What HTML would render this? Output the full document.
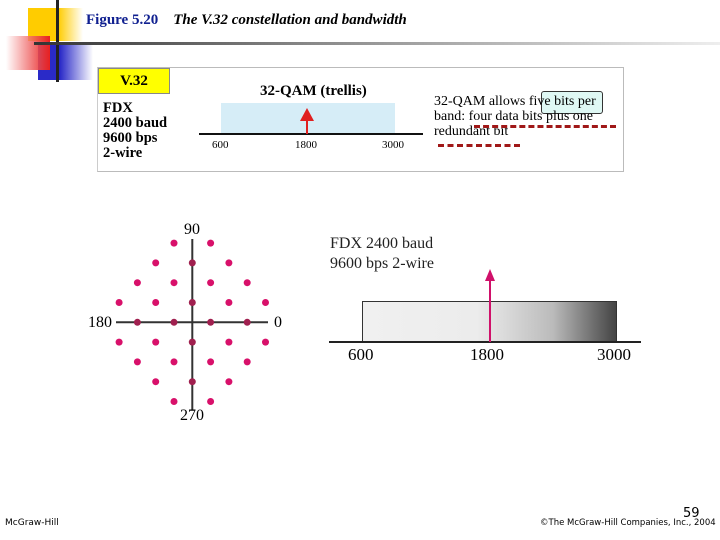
<!DOCTYPE html>
<html><head><meta charset="utf-8"><style>
body{margin:0;width:720px;height:540px;background:#fff;position:relative;overflow:hidden;font-family:"Liberation Serif",serif}
div,span{position:absolute}
</style></head><body>
<div style="left:28px;top:8px;width:55px;height:33px;background:linear-gradient(90deg,#fc0 55%,rgba(255,220,120,0))"></div>
<div style="left:38px;top:43px;width:55px;height:37px;background:linear-gradient(90deg,#2a2ac8 40%,rgba(80,80,220,0))"></div>
<div style="left:6px;top:36px;width:44px;height:34px;background:linear-gradient(90deg,rgba(255,255,255,0.6),#e82020);"></div>
<div style="left:56px;top:0;width:3px;height:82px;background:#222"></div>
<div style="left:34px;top:42px;width:686px;height:3px;background:linear-gradient(90deg,#333,#888 40%,#eee)"></div>
<div style="left:86px;top:12px;font-size:15px;white-space:nowrap"><b style="position:static;color:#102090">Figure 5.20</b>&nbsp;&nbsp;&nbsp;&nbsp;<i style="font-weight:bold">The V.32 constellation and bandwidth</i></div>

<div style="left:97px;top:67px;width:525px;height:103px;border:1px solid #bbb;border-left:1px solid #ccc">
  <div style="left:0;top:0;width:70px;height:24px;background:#ff0;border:1px solid #888;font-weight:bold;font-size:15px;text-align:center;line-height:24px">V.32</div>
  <div style="left:5px;top:33px;font-weight:bold;font-size:14.5px;line-height:15px">FDX<br>2400 baud<br>9600 bps<br>2-wire</div>
  <div style="left:162px;top:15px;font-weight:bold;font-size:15px">32-QAM (trellis)</div>
  <div style="left:123px;top:35px;width:174px;height:30px;background:#d6edf7"></div>
  <div style="left:101px;top:65px;width:224px;height:2px;background:#111"></div>
  <div style="left:208px;top:52px;width:2px;height:14px;background:#e02020"></div>
  <div style="left:202px;top:40px;width:0;height:0;border-left:7px solid transparent;border-right:7px solid transparent;border-bottom:13px solid #e02020"></div>
  <div style="left:114px;top:71px;font-size:11px">600</div>
  <div style="left:197px;top:71px;font-size:11px">1800</div>
  <div style="left:284px;top:71px;font-size:11px">3000</div>
  <div style="left:443px;top:23px;width:60px;height:21px;background:#dff8f4;border:1px solid #333;border-radius:3px"></div>
  <div style="left:336px;top:26px;font-size:14px;line-height:15px;white-space:nowrap">32-QAM allows five bits per<br>band: four data bits plus one<br>redundant bit</div>
  <div style="left:376px;top:57px;width:142px;border-top:3px dashed #a01818"></div>
  <div style="left:340px;top:76px;width:82px;border-top:3px dashed #a01818"></div>
</div>

<svg style="position:absolute;left:0;top:0" width="720" height="540">
  <g id="const" font-family="Liberation Serif, serif" font-size="16"></g>
</svg>

<div style="left:330px;top:234px;font-size:16px;line-height:20px;color:#222">FDX 2400 baud<br>9600 bps 2-wire</div>
<div style="left:362px;top:301px;width:253px;height:40px;border:1px solid #333;border-bottom:none;background:linear-gradient(90deg,#f0f0f0,#ececec 45%,#bbb 75%,#444)"></div>
<div style="left:329px;top:341px;width:312px;height:2px;background:#222"></div>
<div style="left:489px;top:278px;width:2px;height:64px;background:#d0106a"></div>
<div style="left:485px;top:269px;width:0;height:0;border-left:5px solid transparent;border-right:5px solid transparent;border-bottom:12px solid #d0106a"></div>
<div style="left:348px;top:345px;font-size:17px">600</div>
<div style="left:470px;top:345px;font-size:17px">1800</div>
<div style="left:597px;top:345px;font-size:17px">3000</div>

<div style="left:5px;top:518px;font-family:'DejaVu Sans',sans-serif;font-size:9px">McGraw-Hill</div>
<div style="left:683px;top:506px;font-family:'DejaVu Sans',sans-serif;font-size:13px">59</div>
<div style="left:540px;top:518px;font-family:'DejaVu Sans',sans-serif;font-size:8.5px;white-space:nowrap">©The McGraw-Hill Companies, Inc., 2004</div>

<script>
const pointsX=[-1,1,-2,0,2,-3,-1,1,3,-4,-2,0,2,4,-3,-1,1,3,-4,-2,0,2,4,-3,-1,1,3,-2,0,2,-1,1];
const pointsY=[4,4,3,3,3,2,2,2,2,1,1,1,1,1,0,0,0,0,-1,-1,-1,-1,-1,-2,-2,-2,-2,-3,-3,-3,-4,-4];
const axisLabels=['0','90','180','270'];
const cx=192.3,cy=322.3,sx=18.3,sy=19.8;
const X=v=>cx+v*sx, Y=v=>cy-v*sy;
const g=document.getElementById('const');
const NS='http://www.w3.org/2000/svg';
function ln(x1,y1,x2,y2,name){const l=document.createElementNS(NS,'line');
l.setAttribute('x1',x1);l.setAttribute('y1',y1);l.setAttribute('x2',x2);l.setAttribute('y2',y2);
l.setAttribute('stroke','#333');l.setAttribute('stroke-width','2');


g.appendChild(l);}
ln(116,cy,268,cy,'constellation-h-axis');
ln(cx,239,cx,410,'constellation-v-axis');
pointsX.forEach((px,i)=>{const c=document.createElementNS(NS,'circle');
c.setAttribute('cx',X(px));c.setAttribute('cy',Y(pointsY[i]));c.setAttribute('r','3.5');
c.setAttribute('fill',(px===0||pointsY[i]===0)?'#a0204f':'#d8106a');


g.appendChild(c);});
const lp=[[274,327,'start'],[192,234,'middle'],[112,327,'end'],[192,420,'middle']];
axisLabels.forEach((t,i)=>{const e=document.createElementNS(NS,'text');
e.setAttribute('x',lp[i][0]);e.setAttribute('y',lp[i][1]);e.setAttribute('text-anchor',lp[i][2]);
e.textContent=t;


g.appendChild(e);});
</script>
</body></html>
